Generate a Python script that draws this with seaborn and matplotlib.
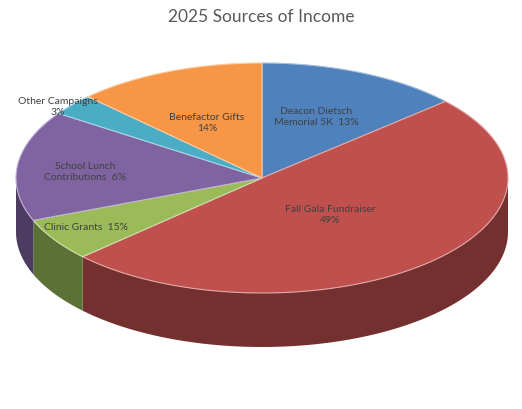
import numpy as np
import matplotlib.pyplot as plt
import matplotlib.colors as mcolors
import seaborn as sns

sns.set_style("white")
plt.rcParams['font.family'] = ['Lato', 'DejaVu Sans']

names = ['Deacon Dietsch\nMemorial 5K', 'Fall Gala Fundraiser', 'Clinic Grants',
         'School Lunch\nContributions', 'Other Campaigns', 'Benefactor Gifts']
pct_labels = ['13%', '49%', '15%', '6%', '3%', '14%']
# slice sizes as drawn in the picture
values = [13.4, 49.6, 6, 15.5, 3, 12.5]
colors = ['#4F81BD', '#C0504D', '#9BBB59', '#8064A2', '#4BACC6', '#F79646']
seps = ['  ', '\n', '  ', '  ', '\n', '\n']
label_pos = [(316, 117), (330, 215), (86, 228), (85, 172), (58, 107), (207, 123)]

# ellipse geometry in pixel space
cx, cy, rx, ry, depth = 262, 178, 246, 115, 54

def pt(t, dz=0):
    return cx + rx * np.cos(np.radians(t)), cy - ry * np.sin(np.radians(t)) + dz

fig = plt.figure(figsize=(5.22, 4.09), dpi=100)
ax = fig.add_axes([0, 0, 1, 1])
ax.set_xlim(0, 522)
ax.set_ylim(409, 0)
ax.axis('off')

fracs = np.array(values) / sum(values)
starts = 90 - 360 * np.concatenate([[0], np.cumsum(fracs)[:-1]])
ends = starts - 360 * fracs

# side walls (front half: angles between -180 and 0)
for s, e, c in zip(starts, ends, colors):
    dark = tuple(np.array(mcolors.to_rgb(c)) * 0.6)
    for off in (0, -360):
        a0, a1 = max(e, -180 + off), min(s, 0 + off)
        if a1 <= a0:
            continue
        t = np.linspace(a1, a0, 80)
        top = [pt(v) for v in t]
        bot = [pt(v, depth) for v in t[::-1]]
        ax.fill(*zip(*(top + bot)), color=dark, lw=0)

# top wedges
for s, e, c in zip(starts, ends, colors):
    t = np.linspace(s, e, 120)
    xs, ys = zip(*([(cx, cy)] + [pt(v) for v in t]))
    light = tuple(np.array(mcolors.to_rgb(c)) * 0.5 + 0.5)
    ax.fill(xs, ys, color=c, ec=light, lw=0.8)

for n, p, sep, (x, y) in zip(names, pct_labels, seps, label_pos):
    lab = n.split('\n')
    text = n + sep + p
    ax.text(x, y, text, ha='center', va='center', fontsize=7.5,
            color='#404040', linespacing=1.4)

ax.text(261, 17, '2025 Sources of Income', ha='center', va='center',
        fontsize=12.5, color='#595959')

plt.savefig('out.png', dpi=100)
